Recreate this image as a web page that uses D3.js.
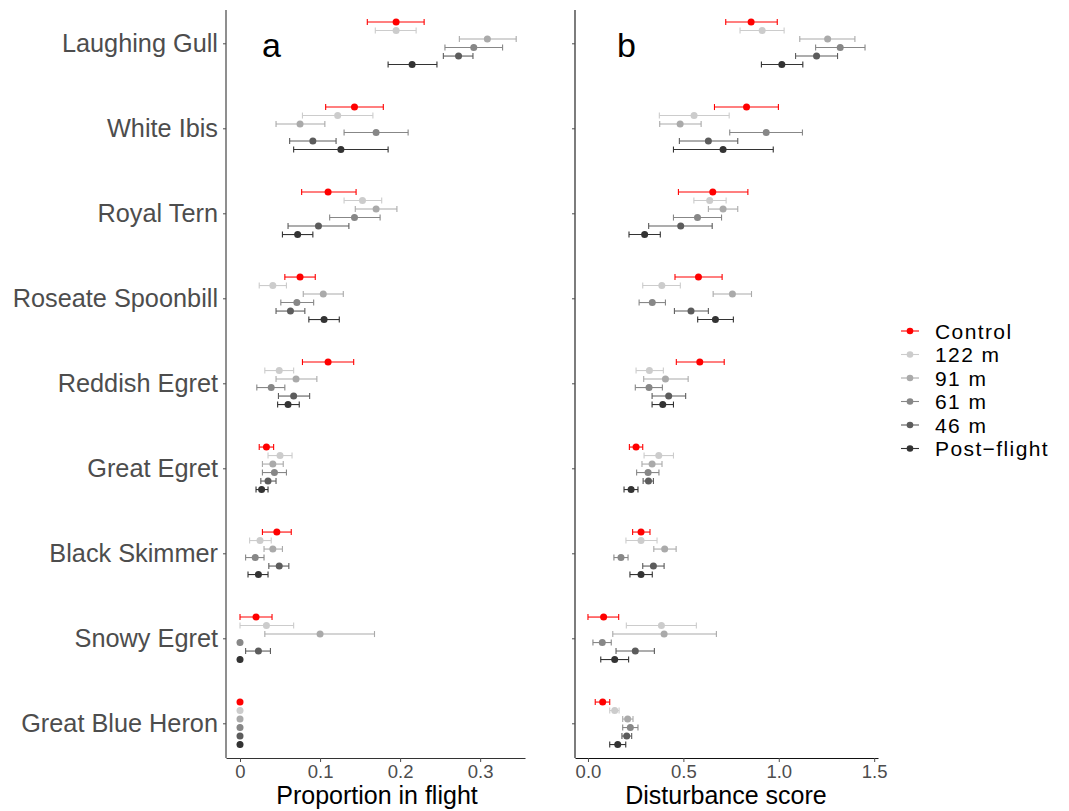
<!DOCTYPE html>
<html>
<head>
<meta charset="utf-8">
<script src="https://cdn.jsdelivr.net/npm/d3@7"></script>
<style>
  body { margin: 0; background: #fff; }
  svg { font-family: "Liberation Sans", Arial, sans-serif; }
</style>
</head>
<body>
<svg id="chart" width="1069" height="811"></svg>
<script>
// species top -> bottom
const species = ["Laughing Gull", "White Ibis", "Royal Tern", "Roseate Spoonbill",
  "Reddish Egret", "Great Egret", "Black Skimmer", "Snowy Egret", "Great Blue Heron"];
const treatments = ["Control", "122 m", "91 m", "61 m", "46 m", "Post\u2212flight"];
const treatmentColors = ["#ff0000", "#cccccc", "#aaaaaa", "#878787", "#5c5c5c", "#333333"];

// panel a: proportion in flight (rows = species, cols = treatments)
const flightMean = [
  [0.195, 0.195, 0.309, 0.292, 0.273, 0.215],
  [0.143, 0.122, 0.075, 0.170, 0.091, 0.126],
  [0.110, 0.153, 0.170, 0.143, 0.098, 0.072],
  [0.075, 0.041, 0.104, 0.071, 0.063, 0.105],
  [0.110, 0.049, 0.070, 0.039, 0.067, 0.060],
  [0.033, 0.050, 0.041, 0.043, 0.035, 0.027],
  [0.046, 0.025, 0.041, 0.019, 0.049, 0.023],
  [0.020, 0.033, 0.100, 0, 0.023, 0],
  [0, 0, 0, 0, 0, 0]
];
const flightLow = [
  [0.159, 0.169, 0.274, 0.256, 0.254, 0.185],
  [0.107, 0.078, 0.045, 0.130, 0.062, 0.067],
  [0.077, 0.130, 0.144, 0.112, 0.060, 0.053],
  [0.056, 0.024, 0.079, 0.051, 0.045, 0.086],
  [0.078, 0.031, 0.045, 0.021, 0.048, 0.047],
  [0.024, 0.035, 0.028, 0.028, 0.026, 0.020],
  [0.028, 0.012, 0.030, 0.007, 0.036, 0.010],
  [0, 0, 0.031, 0, 0.007, 0],
  [0, 0, 0, 0, 0, 0]
];
const flightHigh = [
  [0.230, 0.220, 0.345, 0.328, 0.291, 0.246],
  [0.179, 0.166, 0.106, 0.210, 0.120, 0.185],
  [0.145, 0.177, 0.196, 0.175, 0.136, 0.091],
  [0.094, 0.058, 0.129, 0.092, 0.081, 0.124],
  [0.142, 0.067, 0.096, 0.056, 0.087, 0.074],
  [0.042, 0.065, 0.054, 0.058, 0.045, 0.035],
  [0.064, 0.039, 0.053, 0.030, 0.061, 0.035],
  [0.040, 0.067, 0.168, 0, 0.038, 0],
  [0, 0, 0, 0, 0, 0]
];

// panel b: disturbance score
const distMean = [
  [0.855, 0.913, 1.256, 1.322, 1.198, 1.016],
  [0.831, 0.556, 0.483, 0.934, 0.631, 0.708],
  [0.654, 0.638, 0.708, 0.574, 0.486, 0.297],
  [0.579, 0.387, 0.757, 0.337, 0.540, 0.668],
  [0.586, 0.322, 0.406, 0.320, 0.423, 0.392],
  [0.252, 0.371, 0.336, 0.315, 0.317, 0.226],
  [0.278, 0.278, 0.402, 0.173, 0.343, 0.278],
  [0.082, 0.385, 0.399, 0.075, 0.248, 0.140],
  [0.077, 0.140, 0.208, 0.222, 0.203, 0.156]
];
const distLow = [
  [0.722, 0.797, 1.110, 1.193, 1.088, 0.909],
  [0.663, 0.374, 0.376, 0.743, 0.479, 0.448],
  [0.474, 0.555, 0.631, 0.448, 0.318, 0.215],
  [0.456, 0.287, 0.656, 0.268, 0.453, 0.575],
  [0.463, 0.252, 0.292, 0.248, 0.336, 0.336],
  [0.217, 0.294, 0.283, 0.255, 0.289, 0.189],
  [0.234, 0.199, 0.345, 0.136, 0.287, 0.220],
  [0.000, 0.201, 0.130, 0.026, 0.147, 0.067],
  [0.038, 0.114, 0.182, 0.182, 0.178, 0.114]
];
const distHigh = [
  [0.992, 1.028, 1.399, 1.452, 1.308, 1.126],
  [0.998, 0.740, 0.593, 1.124, 0.785, 0.971],
  [0.838, 0.724, 0.785, 0.700, 0.651, 0.379],
  [0.703, 0.484, 0.857, 0.406, 0.631, 0.762],
  [0.714, 0.395, 0.525, 0.390, 0.512, 0.448],
  [0.287, 0.448, 0.388, 0.372, 0.343, 0.262],
  [0.325, 0.362, 0.462, 0.210, 0.399, 0.337],
  [0.161, 0.568, 0.673, 0.122, 0.348, 0.213],
  [0.114, 0.163, 0.236, 0.262, 0.229, 0.198]
];

const svg = d3.select('#chart');
const plotTop = 10, plotBottom = 758;

const y = d3.scalePoint().domain(species).range([43.3, 723.3]);
const dodge = d3.scalePoint().domain(treatments).range([-21.25, 21.25]);
const color = d3.scaleOrdinal().domain(treatments).range(treatmentColors);

function rows(mean, low, high) {
  const out = [];
  species.forEach((s, i) => {
    treatments.forEach((t, j) => {
      out.push({species: s, treatment: t, mean: mean[i][j], low: low[i][j], high: high[i][j]});
    });
  });
  return out;
}

function panel(opts) {
  const x = d3.scaleLinear().domain(opts.domain).range([opts.left, opts.right]);
  const g = svg.append('g');

  // axes
  const xAxis = g.append('g')
    .attr('transform', `translate(0,${plotBottom})`)
    .call(d3.axisBottom(x).tickValues(opts.ticks).tickFormat(opts.fmt).tickSize(4).tickPadding(3).tickSizeOuter(0));
  xAxis.select('.domain').attr('stroke', opts.axisColor).attr('stroke-width', 1.1);
  xAxis.selectAll('.tick line').attr('stroke', '#4d4d4d');
  xAxis.selectAll('.tick text').attr('fill', '#4d4d4d').style('font-size', '18.5px');

  const yAxis = g.append('g')
    .attr('transform', `translate(${opts.left},0)`)
    .call(d3.axisLeft(y).tickSize(3).tickPadding(5).tickSizeOuter(0));
  yAxis.select('.domain').attr('d', `M0,${plotTop}V${plotBottom}`)
    .attr('stroke', opts.axisColor).attr('stroke-width', 1.1);
  yAxis.selectAll('.tick line').attr('stroke', '#4d4d4d');
  yAxis.selectAll('.tick text').attr('fill', '#4d4d4d').style('font-size', '25.3px')
    .text(opts.showLabels ? (d) => d : '');

  // error bars + points
  const data = rows(opts.mean, opts.low, opts.high);
  const marks = g.append('g').selectAll('g').data(data).join('g')
    .attr('transform', (d) => `translate(0,${y(d.species) + dodge(d.treatment)})`)
    .attr('stroke', (d) => color(d.treatment))
    .attr('fill', (d) => color(d.treatment));
  marks.append('line')
    .attr('x1', (d) => x(d.low)).attr('x2', (d) => x(d.high))
    .attr('stroke-width', 1.1);
  marks.append('line')
    .attr('x1', (d) => x(d.low)).attr('x2', (d) => x(d.low))
    .attr('y1', -3).attr('y2', 3).attr('stroke-width', 1.1);
  marks.append('line')
    .attr('x1', (d) => x(d.high)).attr('x2', (d) => x(d.high))
    .attr('y1', -3).attr('y2', 3).attr('stroke-width', 1.1);
  marks.append('circle')
    .attr('cx', (d) => x(d.mean)).attr('r', 3.5).attr('stroke', 'none');

  // panel letter
  g.append('text').attr('x', opts.letterX).attr('y', 57)
    .style('font-size', '34px').attr('fill', '#000').text(opts.letter);

  // axis title
  g.append('text').attr('x', opts.titleX).attr('y', 804)
    .attr('text-anchor', 'middle').style('font-size', '25px').attr('fill', '#000')
    .text(opts.title);
}

panel({
  left: 226, right: 525, domain: [-0.0175, 0.356],
  ticks: [0, 0.1, 0.2, 0.3], fmt: (d) => d === 0 ? '0' : d3.format('.1f')(d),
  mean: flightMean, low: flightLow, high: flightHigh,
  letter: 'a', letterX: 262, title: 'Proportion in flight', titleX: 377,
  showLabels: true, axisColor: '#333'
});

panel({
  left: 575, right: 878, domain: [-0.068, 1.52],
  ticks: [0, 0.5, 1, 1.5], fmt: d3.format('.1f'),
  mean: distMean, low: distLow, high: distHigh,
  letter: 'b', letterX: 617, title: 'Disturbance score', titleX: 726,
  showLabels: false, axisColor: '#111'
});

// legend
const legend = svg.append('g').attr('transform', 'translate(901,331)');
const item = legend.selectAll('g').data(treatments).join('g')
  .attr('transform', (d, i) => `translate(0,${i * 23.5})`);
item.append('line').attr('x1', 0).attr('x2', 18)
  .attr('stroke', (d) => color(d)).attr('stroke-width', 1.1);
item.append('circle').attr('cx', 9).attr('r', 3.3).attr('fill', (d) => color(d));
item.append('text').attr('x', 34).attr('dy', '0.36em')
  .style('font-size', '21px').style('letter-spacing', '1.4px')
  .attr('fill', '#000').text((d) => d);
</script>
</body>
</html>
